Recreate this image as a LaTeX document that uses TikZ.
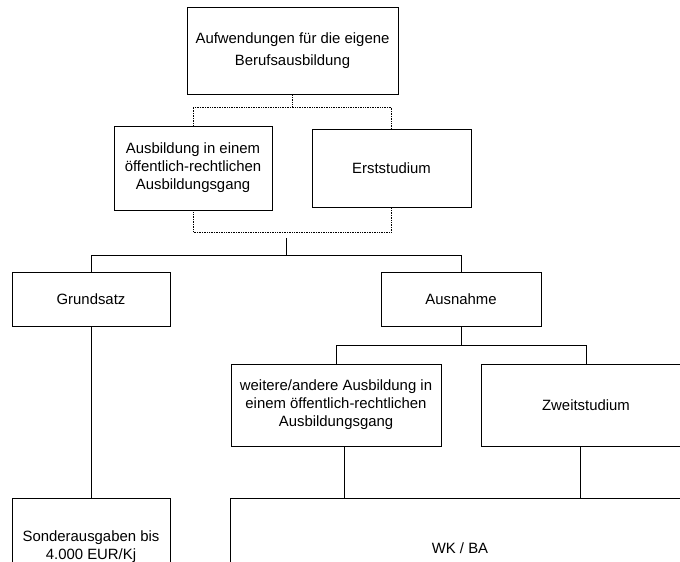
\documentclass[tikz,border=0pt]{standalone}
\usepackage{fontspec}
\setmainfont{Liberation Sans}
\usetikzlibrary{calc}
\begin{document}
\begin{tikzpicture}[x=1pt,y=-1pt,
  box/.style={draw, line width=0.9pt, align=center, inner sep=0pt,
    font=\fontsize{14.9}{18}\selectfont},
  link/.style={line width=0.8pt},
  dotlink/.style={line width=0.7pt, densely dotted},
  heavydots/.style={line width=1.4pt, densely dotted}]
\clip (0,0) rectangle (680,562);

% boxes
\node[box, minimum width=211pt, minimum height=87pt,
      font=\fontsize{14.9}{22}\selectfont] (top) at (292.5,50.5)
  {Aufwendungen für die eigene\\Berufsausbildung};
\node[box, minimum width=158pt, minimum height=84pt] (ausb) at (193,168)
  {Ausbildung in einem\\öffentlich-rechtlichen\\Ausbildungsgang};
\node[box, minimum width=159pt, minimum height=78pt] (erst) at (391.5,168)
  {Erststudium};
\node[box, minimum width=158pt, minimum height=54pt] (grund) at (91,299)
  {Grundsatz};
\node[box, minimum width=160pt, minimum height=54pt] (ausn) at (461,299)
  {Ausnahme};
\node[box, minimum width=210pt, minimum height=82pt] (weit) at (336,405)
  {weitere/andere Ausbildung in\\einem öffentlich-rechtlichen\\Ausbildungsgang};
\node[box, minimum width=210pt, minimum height=82pt] (zweit) at (586,405)
  {Zweitstudium};
\node[box, minimum width=158pt, minimum height=98pt] (sond) at (91,547)
  {Sonderausgaben bis\\4.000 EUR/Kj};
\node[box, minimum width=460pt, minimum height=100pt] (wk) at (460,548)
  {WK / BA};

% levels of the horizontal rails
\coordinate (lvl1) at (0,107);
\coordinate (lvl2) at (0,232);
\coordinate (lvl3) at (0,255);
\coordinate (lvl4) at (0,345);
\coordinate (tick) at (286,238);

% upper dotted bracket
\draw[heavydots] (top.south) -- (top.south |- lvl1);
\draw[dotlink] (ausb.north) -- (ausb.north |- lvl1) -- (erst.north |- lvl1) -- (erst.north);
\draw[dotlink] (ausb.south) -- (ausb.south |- lvl2) -- (erst.south |- lvl2) -- (erst.south);

% Grundsatz / Ausnahme
\draw[link] (tick) -- (tick |- lvl3);
\draw[link] (grund.north) -- (grund.north |- lvl3) -- (ausn.north |- lvl3) -- (ausn.north);
\draw[link] (grund.south) -- (sond.north);

% exceptions
\draw[link] (ausn.south) -- (ausn.south |- lvl4);
\draw[link] (weit.north) -- (weit.north |- lvl4) -- (zweit.north |- lvl4) -- (zweit.north);
\coordinate (wa) at ($(weit.south)+(8,0)$);
\coordinate (za) at ($(zweit.south)+(-6,0)$);
\draw[link] (wa) -- (wa |- wk.north);
\draw[link] (za) -- (za |- wk.north);
\end{tikzpicture}
\end{document}
